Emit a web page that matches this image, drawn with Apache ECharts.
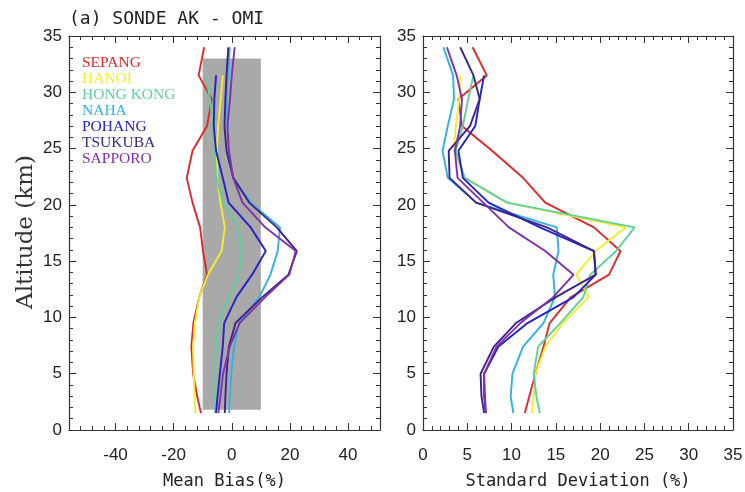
<!DOCTYPE html>
<html>
<head>
<meta charset="utf-8">
<script src="https://cdn.jsdelivr.net/npm/echarts@6/dist/echarts.min.js"></script>
<style>
  html, body { margin: 0; padding: 0; background: #fff; }
  #chart { width: 745px; height: 492px; }
</style>
</head>
<body>
<div id="chart"></div>
<script>
// Altitude levels (km) shared by every profile
const ALTITUDE = [1.5, 3.0, 5.0, 7.4, 9.5, 11.8, 13.8, 15.9, 18.0, 20.2, 22.4, 24.8, 27.0, 29.4, 31.5, 34.0];

const STATIONS = ['SEPANG', 'HANOI', 'HONG KONG', 'NAHA', 'POHANG', 'TSUKUBA', 'SAPPORO'];
const STATION_COLORS = ['#dc2a2c', '#f2ee2a', '#5fd09a', '#30b2e2', '#2222c8', '#3d2488', '#8230ae'];

// Mean bias (%) per station, one value per altitude level
const sepangBias   = [-10.6, -11.9, -13.3, -13.9, -13.2, -11.2, -8.5, -9.9, -10.9, -13.5, -15.5, -13.5, -8.5, -6.9, -11.4, -9.5];
const hanoiBias    = [-12.5, -12.8, -13.1, -13.3, -12.7, -11.2, -8.2, -3.5, -2.4, -3.9, -5.0, -5.1, -4.7, -3.8, -3.1, null];
const hongKongBias = [-5.7, -5.7, -5.7, -5.5, -4.6, -1.0, 2.5, 3.4, 2.2, -3.0, -5.3, -6.0, -6.4, -7.5, -8.9, null];
const nahaBias     = [-0.9, -0.6, -0.2, 0.8, 2.5, 9.5, 13.3, 15.8, 16.6, 6.5, 0.5, -1.0, -1.4, -1.8, -1.3, -0.7];
const pohangBias   = [-5.4, -4.9, -4.1, -3.1, -2.6, 1.6, 7.0, 11.7, 6.5, -1.1, -3.1, -5.4, -6.2, -6.0, -5.4, null];
const tsukubaBias  = [-2.4, -2.2, -1.8, -1.0, 1.3, 10.5, 19.5, 22.4, 15.5, 6.0, 0.5, -1.8, -2.5, -2.2, -1.8, -1.2];
const sapporoBias  = [-4.6, -3.9, -3.0, -0.7, 2.7, 11.5, 19.8, 22.0, 11.5, 3.7, 0.5, -1.0, -1.5, -0.6, 0.0, 1.0];

// Standard deviation (%) per station
const sepangStd   = [11.5, 12.0, 12.7, 13.6, 14.3, 16.7, 21.0, 22.3, 19.3, 13.8, 11.3, 7.8, 4.4, 4.0, 7.2, 5.6];
const hanoiStd    = [12.3, 12.5, 12.7, 13.8, 15.8, 18.7, 17.3, 19.5, 22.9, 9.5, 4.7, 3.5, 3.7, 4.1, 4.2, null];
const hongKongStd = [13.2, 12.8, 12.5, 13.0, 15.5, 18.1, 18.9, 21.8, 23.9, 9.5, 4.7, 3.7, 4.5, 5.1, 5.7, null];
const nahaStd     = [10.2, 9.9, 10.1, 11.3, 13.6, 14.9, 14.7, 15.3, 15.1, 6.0, 2.8, 2.2, 2.8, 3.5, 3.4, 2.3];
const pohangStd   = [7.1, 6.9, 6.9, 8.5, 11.8, 17.0, 19.5, 19.3, 13.2, 7.4, 4.5, 4.0, 5.9, 6.4, 6.9, null];
const tsukubaStd  = [6.9, 6.6, 6.5, 8.0, 10.5, 15.0, 19.5, 19.3, 14.0, 6.0, 3.0, 2.9, 5.3, 6.4, 5.7, 4.2];
const sapporoStd  = [7.1, 7.0, 6.9, 8.3, 11.0, 14.7, 17.0, 13.8, 9.7, 6.8, 3.9, 3.6, 4.2, 4.4, 3.8, 2.7];

const BIAS = [sepangBias, hanoiBias, hongKongBias, nahaBias, pohangBias, tsukubaBias, sapporoBias];
const STD  = [sepangStd, hanoiStd, hongKongStd, nahaStd, pohangStd, tsukubaStd, sapporoStd];

// Shaded band: OMI accuracy range
const BAND_BIAS = [-10, 10];
const BAND_ALT  = [1.8, 33];

// Axis ranges and ticks
const BIAS_RANGE = [-56, 51];
const BIAS_MAJOR = [-40, -20, 0, 20, 40];
const BIAS_MINOR = [-52, -48, -44, -36, -32, -28, -24, -16, -12, -8, -4, 4, 8, 12, 16, 24, 28, 32, 36, 44, 48];
const STD_RANGE = [0, 35];
const ALT_RANGE = [0, 35];

// Panel boxes
const PANELS = [
  { left: 69, top: 36, width: 311, height: 394, outerBoundsMode: 'none', containLabel: false },
  { left: 423, top: 36, width: 310, height: 394, outerBoundsMode: 'none', containLabel: false }
];

const AXIS_COLOR = '#333';
const LABEL_FONT = { fontFamily: 'Liberation Sans', fontSize: 17, color: '#222' };
const NAME_FONT = { fontFamily: 'DejaVu Sans Mono', fontSize: 17, color: '#222' };
const TICK_STYLE = { color: AXIS_COLOR, width: 1 };
const BORDER = { show: true, onZero: false, lineStyle: { color: AXIS_COLOR, width: 1.2 } };
const NO_LINE = { show: false, onZero: false };

function profile(values) {
  const pts = [];
  values.forEach((v, i) => { if (v !== null) pts.push([v, ALTITUDE[i]]); });
  return pts;
}

// Horizontal axes of one panel: labelled bottom border, plain top border,
// and tick-only axes flipped across the box so that ticks point inwards.
function xAxesFor(grid, range, cfg) {
  const H = PANELS[grid].height;
  const base = { type: 'value', gridIndex: grid, min: range[0], max: range[1], splitLine: { show: false } };
  const axes = [
    Object.assign({}, base, cfg.step, {
      position: 'bottom', axisLine: BORDER, axisTick: { show: false },
      axisLabel: Object.assign({ margin: 17 }, LABEL_FONT, cfg.labelValues ? { customValues: cfg.labelValues } : {}),
      name: cfg.name, nameLocation: 'middle', nameGap: 43, nameTextStyle: NAME_FONT
    }),
    Object.assign({}, base, { position: 'top', axisLine: BORDER, axisTick: { show: false }, axisLabel: { show: false } })
  ];
  // tick axes: 'top' shifted down onto the bottom border, 'bottom' shifted up onto the top border
  [['top', -H], ['bottom', -H]].forEach(([pos, off]) => {
    axes.push(Object.assign({}, base, cfg.step, {
      position: pos, offset: off, axisLine: NO_LINE, axisLabel: { show: false },
      axisTick: Object.assign({ show: true, inside: false, length: 7, lineStyle: TICK_STYLE },
        cfg.majorValues ? { customValues: cfg.majorValues } : {}),
      minorTick: cfg.minorSplit ? { show: true, splitNumber: cfg.minorSplit, length: 4, lineStyle: TICK_STYLE } : { show: false }
    }));
    if (cfg.minorValues) {
      axes.push(Object.assign({}, base, {
        position: pos, offset: off, axisLine: NO_LINE, axisLabel: { show: false },
        axisTick: { show: true, inside: false, length: 4, customValues: cfg.minorValues, lineStyle: TICK_STYLE }
      }));
    }
  });
  return axes;
}

function yAxesFor(grid) {
  const W = PANELS[grid].width;
  const base = {
    type: 'value', gridIndex: grid, min: ALT_RANGE[0], max: ALT_RANGE[1], interval: 5,
    splitLine: { show: false }
  };
  const axes = [
    Object.assign({}, base, {
      position: 'left', axisLine: BORDER, axisTick: { show: false },
      axisLabel: Object.assign({ margin: 7 }, LABEL_FONT)
    }),
    Object.assign({}, base, { position: 'right', axisLine: BORDER, axisTick: { show: false }, axisLabel: { show: false } })
  ];
  [['right', -W], ['left', -W]].forEach(([pos, off]) => {
    axes.push(Object.assign({}, base, {
      position: pos, offset: off, axisLine: NO_LINE, axisLabel: { show: false },
      axisTick: { show: true, inside: false, length: 7, lineStyle: TICK_STYLE },
      minorTick: { show: true, splitNumber: 5, length: 4, lineStyle: TICK_STYLE }
    }));
  });
  return axes;
}

const biasX = xAxesFor(0, BIAS_RANGE, {
  name: 'Mean Bias(%)', labelValues: BIAS_MAJOR, majorValues: BIAS_MAJOR, minorValues: BIAS_MINOR
});
const stdX = xAxesFor(1, STD_RANGE, {
  name: 'Standard Deviation (%)', step: { interval: 5 }, minorSplit: 5
});
const xAxes = biasX.concat(stdX);
const STD_X_INDEX = biasX.length;

const biasY = yAxesFor(0);
const stdY = yAxesFor(1);
const yAxes = biasY.concat(stdY);
const STD_Y_INDEX = biasY.length;

const series = [];
// gray band behind the bias profiles
series.push({
  type: 'line', xAxisIndex: 0, yAxisIndex: 0, data: [], z: 1, silent: true,
  markArea: {
    silent: true,
    itemStyle: { color: '#a9a9a9', opacity: 1 },
    data: [[{ coord: [BAND_BIAS[0], BAND_ALT[0]] }, { coord: [BAND_BIAS[1], BAND_ALT[1]] }]]
  }
});
STATIONS.forEach((name, i) => {
  series.push({
    name, type: 'line', xAxisIndex: 0, yAxisIndex: 0, z: 3,
    data: profile(BIAS[i]), symbol: 'none', smooth: false,
    lineStyle: { color: STATION_COLORS[i], width: 1.9 }, itemStyle: { color: STATION_COLORS[i] }
  });
});
STATIONS.forEach((name, i) => {
  series.push({
    name, type: 'line', xAxisIndex: STD_X_INDEX, yAxisIndex: STD_Y_INDEX, z: 3,
    data: profile(STD[i]), symbol: 'none', smooth: false,
    lineStyle: { color: STATION_COLORS[i], width: 1.9 }, itemStyle: { color: STATION_COLORS[i] }
  });
});

const chart = echarts.init(document.getElementById('chart'), null, { renderer: 'canvas' });
chart.setOption({
  animation: false,
  backgroundColor: '#fff',
  title: {
    text: '(a) SONDE AK - OMI', left: 64, top: 5,
    textStyle: { fontFamily: 'DejaVu Sans Mono', fontSize: 18, fontWeight: 'normal', color: '#222' }
  },
  legend: {
    orient: 'vertical', left: 72, top: 50, icon: 'none',
    itemWidth: 0, itemHeight: 10, itemGap: 0,
    textStyle: { fontFamily: 'Liberation Serif', fontSize: 15.5, lineHeight: 15.6 },
    data: STATIONS.map((n, i) => ({ name: n, textStyle: { color: STATION_COLORS[i] } }))
  },
  graphic: [{
    type: 'text', x: 26, y: 232, rotation: Math.PI / 2,
    style: {
      text: 'Altitude (km)', fill: '#333', align: 'center', verticalAlign: 'middle',
      font: '23px "DejaVu Serif"'
    }
  }],
  grid: PANELS,
  xAxis: xAxes,
  yAxis: yAxes,
  series
});
</script>
</body>
</html>
